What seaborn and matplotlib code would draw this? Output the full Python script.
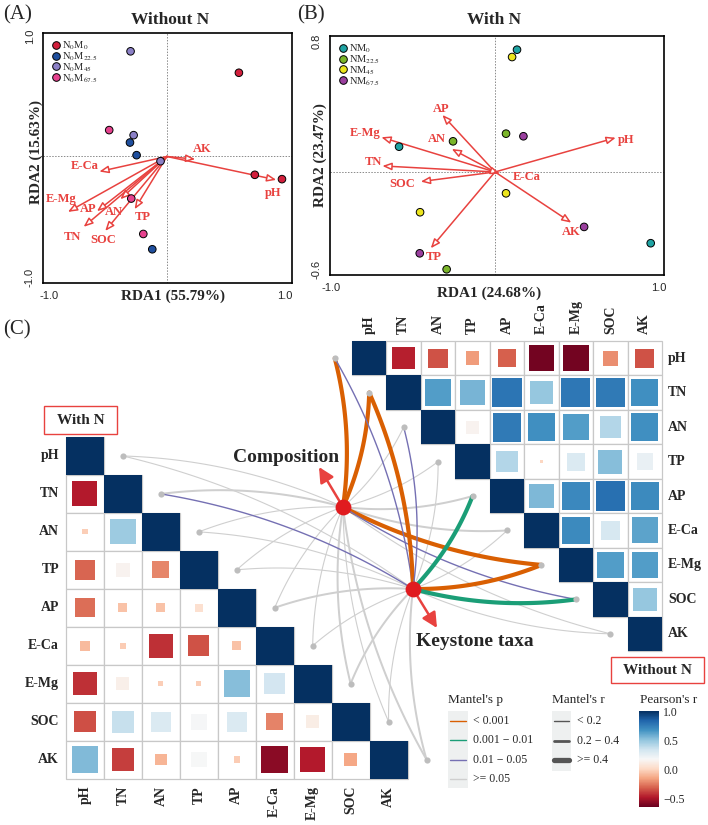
import numpy as np
import pandas as pd
import matplotlib
matplotlib.use("Agg")
import matplotlib.pyplot as plt
import seaborn as sns
from matplotlib.patches import Rectangle
from matplotlib.colors import Normalize
from matplotlib.lines import Line2D
from matplotlib.cm import ScalarMappable

sns.set_style("white")
plt.rcParams["font.family"] = ["Liberation Serif", "DejaVu Serif"]
plt.rcParams["mathtext.fontset"] = "stix"

# ----------------------------------------------------------------------
# (A) RDA without N
groups_a = ["N$_0$M$_0$", "N$_0$M$_{22.5}$", "N$_0$M$_{45}$", "N$_0$M$_{67.5}$"]
colors_a = ["#d21f3c", "#1f4f9e", "#8b80c6", "#e6428e"]
site_grp_a = [0, 0, 0, 1, 1, 1, 2, 2, 2, 3, 3, 3]
rda1_a = [0.61, 0.745, 0.975, -0.313, -0.257, -0.124, -0.308, -0.282, -0.054, -0.489, -0.302, -0.20]
rda2_a = [0.695, -0.152, -0.188, 0.116, 0.011, -0.77, 0.873, 0.177, -0.039, 0.219, -0.349, -0.643]
env_a = ["AK", "pH", "E-Ca", "E-Mg", "AP", "AN", "TN", "SOC", "TP"]
env1_a = [0.24, 0.927, -0.573, -0.839, -0.593, -0.395, -0.706, -0.523, -0.274]
env2_a = [-0.022, -0.194, -0.125, -0.46, -0.454, -0.355, -0.584, -0.618, -0.438]
lab1_a = [0.297, 0.898, -0.70, -0.895, -0.664, -0.452, -0.797, -0.537, -0.203]
lab2_a = [0.066, -0.30, -0.083, -0.355, -0.438, -0.457, -0.665, -0.693, -0.499]

# (B) RDA with N
groups_b = ["NM$_0$", "NM$_{22.5}$", "NM$_{45}$", "NM$_{67.5}$"]
colors_b = ["#1fa3a3", "#7bb52a", "#ece51d", "#9a3f9e"]
site_grp_b = [0, 0, 0, 1, 1, 1, 2, 2, 2, 3, 3, 3]
rda1_b = [0.134, -0.585, 0.949, 0.067, -0.256, -0.295, 0.104, 0.067, -0.457, 0.173, 0.543, -0.459]
rda2_b = [0.75, 0.155, -0.437, 0.235, 0.188, -0.597, 0.705, -0.131, -0.247, 0.219, -0.337, -0.499]
env_b = ["AP", "E-Mg", "AN", "TN", "SOC", "pH", "E-Ca", "AK", "TP"]
env1_b = [-0.321, -0.693, -0.264, -0.687, -0.453, 0.736, 0.03, 0.465, -0.392]
env2_b = [0.35, 0.213, 0.141, 0.037, -0.059, 0.21, -0.01, -0.311, -0.468]
lab1_b = [-0.327, -0.79, -0.352, -0.74, -0.565, 0.80, 0.193, 0.465, -0.372]
lab2_b = [0.384, 0.237, 0.20, 0.061, -0.072, 0.196, -0.029, -0.366, -0.523]

# (C) Pearson's r between soil properties
soil = ["pH", "TN", "AN", "TP", "AP", "E-Ca", "E-Mg", "SOC", "AK"]
# without N: row i holds r with the columns i+1 .. 8
r_without_n = [
    [-0.46, -0.34, -0.17, -0.31, -0.61, -0.61, -0.20, -0.34],
    [0.64, 0.56, 0.78, 0.50, 0.77, 0.76, 0.68],
    [0.15, 0.76, 0.68, 0.64, 0.42, 0.68],
    [0.42, 0.005, 0.30, 0.53, 0.24],
    [0.55, 0.71, 0.80, 0.70],
    [0.70, 0.32, 0.62],
    [0.64, 0.64],
    [0.50],
]
# with N: row i+1 holds r with the columns 0 .. i
r_with_n = [
    [-0.47],
    [-0.02, 0.48],
    [-0.30, 0.15, -0.22],
    [-0.28, -0.06, -0.06, 0.05],
    [-0.08, -0.025, -0.42, -0.34, -0.06],
    [-0.42, 0.13, -0.02, -0.02, 0.53, 0.33],
    [-0.35, 0.37, 0.30, 0.19, 0.30, -0.23, 0.12],
    [0.54, -0.39, -0.10, 0.18, -0.03, -0.56, -0.47, -0.14],
]

# Mantel test classes (one entry per soil property, same order as `soil`)
p_comp_without = ["<0.001", "<0.001", ">=0.05", ">=0.05", ">=0.05", ">=0.05", "<0.001", "0.01-0.05", ">=0.05"]
r_comp_without = [">=0.4", ">=0.4", "<0.2", "<0.2", "0.2-0.4", "0.2-0.4", ">=0.4", "<0.2", "<0.2"]
p_key_without = ["0.01-0.05", "<0.001", "0.01-0.05", ">=0.05", "0.001-0.01", ">=0.05", "<0.001", "0.001-0.01", ">=0.05"]
r_key_without = ["<0.2", ">=0.4", "<0.2", "<0.2", ">=0.4", "<0.2", ">=0.4", ">=0.4", "<0.2"]
p_comp_with = [">=0.05"] * 9
r_comp_with = ["<0.2", "0.2-0.4", "<0.2", "<0.2", "<0.2", "<0.2", "0.2-0.4", "<0.2", "0.2-0.4"]
p_key_with = [">=0.05", "0.01-0.05", ">=0.05", ">=0.05", ">=0.05", ">=0.05", ">=0.05", ">=0.05", ">=0.05"]
r_key_with = ["<0.2", "<0.2", "<0.2", "<0.2", "0.2-0.4", "<0.2", "0.2-0.4", "<0.2", "0.2-0.4"]

p_levels = ["<0.001", "0.001-0.01", "0.01-0.05", ">=0.05"]
p_labels = ["< 0.001", "0.001 \u2212 0.01", "0.01 \u2212 0.05", ">= 0.05"]
p_colors = ["#d95f02", "#1b9e77", "#7570b3", "#cfcfcf"]
r_levels = ["<0.2", "0.2-0.4", ">=0.4"]
r_labels = ["< 0.2", "0.2 \u2212 0.4", ">= 0.4"]
r_widths = [1.0, 1.8, 3.0]

# ----------------------------------------------------------------------
W, H = 708, 825
fig = plt.figure(figsize=(W / 100, H / 100), dpi=100)


def px_axes(x0, y0, x1, y1):
    return fig.add_axes([x0 / W, 1 - y1 / H, (x1 - x0) / W, (y1 - y0) / H])


axc = px_axes(0, 0, W, H)
axc.set_xlim(0, W)
axc.set_ylim(H, 0)
axc.axis("off")

red = "#e8423f"


def rda_panel(ax, x, y, grp, groups, colors, env, e1, e2, l1, l2, xlim, ylim, yticks, ylabs):
    df = pd.DataFrame({"RDA1": x, "RDA2": y, "grp": [groups[g] for g in grp]})
    ax.axhline(0, color="#8a8a8a", lw=0.7, ls=(0, (1.5, 1.5)), zorder=0)
    ax.axvline(0, color="#8a8a8a", lw=0.7, ls=(0, (1.5, 1.5)), zorder=0)
    for name, ex, ey, lx, ly in zip(env, e1, e2, l1, l2):
        ax.annotate("", xy=(ex, ey), xytext=(0, 0),
                    arrowprops=dict(arrowstyle="-|>,head_length=0.55,head_width=0.22",
                                    ec=red, fc="white", lw=1.1, mutation_scale=10,
                                    shrinkA=0, shrinkB=0), zorder=2)
        ax.text(lx, ly, name, color=red, fontsize=9, fontweight="bold",
                ha="center", va="center", zorder=3)
    sns.scatterplot(data=df, x="RDA1", y="RDA2", hue="grp", hue_order=groups,
                    palette=colors, s=30, edgecolor="black", linewidth=0.7,
                    legend=False, ax=ax, zorder=4)
    handles = [Line2D([], [], marker="o", ls="", mfc=c, mec="black", mew=0.7, ms=5.5)
               for c in colors]
    ax.legend(handles, groups, loc="upper left", frameon=False, fontsize=7.5,
              handletextpad=0.0, labelspacing=-0.15, borderaxespad=0.4,
              borderpad=0.2, handlelength=1.2)
    ax.set_xlim(*xlim)
    ax.set_ylim(*ylim)
    ax.set_xticks([-1, -0.5, 0, 0.5, 1])
    ax.set_xticklabels(["-1.0", "", "", "", "1.0"], fontfamily="Liberation Sans", fontsize=8)
    ax.set_yticks(yticks)
    ax.set_yticklabels(ylabs, fontfamily="Liberation Sans", fontsize=8, rotation=90, va="center")
    ax.tick_params(direction="out", length=4, width=1, pad=2)
    ax.set_xlabel("")
    ax.set_ylabel("")
    for s in ax.spines.values():
        s.set_linewidth(1.2)
        s.set_color("black")


ax_a = px_axes(43, 33, 292, 283)
rda_panel(ax_a, rda1_a, rda2_a, site_grp_a, groups_a, colors_a, env_a, env1_a, env2_a,
          lab1_a, lab2_a, (-1.05, 1.06), (-1.05, 1.025),
          [-1, -0.5, 0, 0.5, 1], ["-1.0", "", "", "", "1.0"])

ax_b = px_axes(330, 36, 664, 275)
bt = [-0.6, -0.4, -0.2, 0, 0.2, 0.4, 0.6, 0.8]
rda_panel(ax_b, rda1_b, rda2_b, site_grp_b, groups_b, colors_b, env_b, env1_b, env2_b,
          lab1_b, lab2_b, (-1.006, 1.03), (-0.632, 0.834),
          bt, ["-0.6", "", "", "", "", "", "", "0.8"])

# titles / panel labels
axc.text(3, 15, "(A)", fontsize=15, va="center", ha="left")
axc.text(297, 15, "(B)", fontsize=15, va="center", ha="left")
axc.text(3, 330, "(C)", fontsize=15, va="center", ha="left")
axc.text(170, 20, "Without N", fontsize=12.5, fontweight="bold", ha="center", va="center")
axc.text(494, 20, "With N", fontsize=12.5, fontweight="bold", ha="center", va="center")
axc.text(173, 296, "RDA1 (55.79%)", fontsize=11, fontweight="bold", ha="center", va="center")
axc.text(489, 293, "RDA1 (24.68%)", fontsize=11, fontweight="bold", ha="center", va="center")
axc.text(36, 152, "RDA2 (15.63%)", fontsize=11, fontweight="bold", ha="center", va="center", rotation=90)
axc.text(320, 155, "RDA2 (23.47%)", fontsize=11, fontweight="bold", ha="center", va="center", rotation=90)

# ----------------------------------------------------------------------
# (C) correlation matrices
cmap = sns.color_palette("RdBu", as_cmap=True)
norm = Normalize(vmin=-0.64, vmax=1.0)


def draw_cell(x, y, c, r, diag=False):
    axc.add_patch(Rectangle((x, y), c, c, fc="white", ec="#c8c8c8", lw=0.9, zorder=2))
    s = c if diag else np.sqrt(abs(r)) * c * 0.96
    axc.add_patch(Rectangle((x + (c - s) / 2, y + (c - s) / 2), s, s,
                            fc=cmap(norm(r)), ec="none", zorder=3))


ux0, uy0, uc = 352, 341, 34.45
lx0, ly0, lc = 66, 437, 37.95
n = len(soil)
for i in range(n):
    draw_cell(ux0 + i * uc, uy0 + i * uc, uc, 1.0, diag=True)
    for k, r in enumerate(r_without_n[i] if i < n - 1 else []):
        j = i + 1 + k
        draw_cell(ux0 + j * uc, uy0 + i * uc, uc, r)
    draw_cell(lx0 + i * lc, ly0 + i * lc, lc, 1.0, diag=True)
    if i > 0:
        for j, r in enumerate(r_with_n[i - 1]):
            draw_cell(lx0 + j * lc, ly0 + i * lc, lc, r)
    axc.text(ux0 + (i + 0.5) * uc, 334, soil[i], rotation=90, ha="center", va="bottom",
             fontsize=10, fontweight="bold")
    axc.text(668, uy0 + (i + 0.5) * uc, soil[i], ha="left", va="center",
             fontsize=10, fontweight="bold")
    axc.text(59, ly0 + (i + 0.5) * lc, soil[i], ha="right", va="center",
             fontsize=10, fontweight="bold")
    axc.text(lx0 + (i + 0.5) * lc, 786, soil[i], rotation=90, ha="center", va="top",
             fontsize=10, fontweight="bold")

# network (Mantel links)
comp = np.array([343.0, 507.0])
key = np.array([413.0, 589.0])
up_pts = [np.array([ux0 + (i - 0.5) * uc, uy0 + (i + 0.5) * uc]) for i in range(n)]
low_pts = [np.array([lx0 + (i + 1.5) * lc, ly0 + (i + 0.5) * lc]) for i in range(n)]


def link(p0, p1, pcls, rcls, curv=0.1):
    d = p1 - p0
    ctrl = (p0 + p1) / 2 + curv * np.array([-d[1], d[0]])
    t = np.linspace(0, 1, 60)[:, None]
    pts = (1 - t) ** 2 * p0 + 2 * (1 - t) * t * ctrl + t ** 2 * p1
    col = p_colors[p_levels.index(pcls)]
    lw = r_widths[r_levels.index(rcls)]
    z = 4 if pcls == ">=0.05" else 5
    if pcls == ">=0.05":
        lw = lw * 0.8
    axc.plot(pts[:, 0], pts[:, 1], color=col, lw=lw, zorder=z, solid_capstyle="round")


links = [
    (comp, up_pts, p_comp_without, r_comp_without),
    (key, up_pts, p_key_without, r_key_without),
    (comp, low_pts, p_comp_with, r_comp_with),
    (key, low_pts, p_key_with, r_key_with),
]
for node, pts, pc, rc in links:
    for p, pcls, rcls in zip(pts, pc, rc):
        link(node, p, pcls, rcls)

allpts = np.array(up_pts + low_pts)
axc.scatter(allpts[:, 0], allpts[:, 1], s=20, color="#bdbdbd", zorder=6, linewidths=0)
axc.scatter([comp[0], key[0]], [comp[1], key[1]], s=130, color="#e01b1f", zorder=7, linewidths=0)
axc.annotate("", xy=(319, 467), xytext=tuple(comp),
             arrowprops=dict(arrowstyle="-|>,head_length=0.9,head_width=0.45", color=red,
                             lw=1.8, mutation_scale=10, shrinkA=0, shrinkB=0), zorder=6)
axc.annotate("", xy=(437, 628), xytext=tuple(key),
             arrowprops=dict(arrowstyle="-|>,head_length=0.9,head_width=0.45", color=red,
                             lw=1.8, mutation_scale=10, shrinkA=0, shrinkB=0), zorder=6)
axc.text(286, 457, "Composition", fontsize=14, fontweight="bold", ha="center", va="center", zorder=8)
axc.text(475, 642, "Keystone taxa", fontsize=14, fontweight="bold", ha="center", va="center", zorder=8)

# boxes
axc.add_patch(Rectangle((44, 406), 73, 28, fc="white", ec=red, lw=1.0, zorder=8))
axc.text(80.5, 420, "With N", fontsize=11, fontweight="bold", ha="center", va="center", zorder=9)
axc.add_patch(Rectangle((611, 657), 93, 26, fc="white", ec=red, lw=1.0, zorder=8))
axc.text(657.5, 670, "Without N", fontsize=11, fontweight="bold", ha="center", va="center", zorder=9)

# legends
axc.text(448, 700, "Mantel's p", fontsize=9.5, ha="left", va="center")
axc.add_patch(Rectangle((448, 711), 20, 77, fc="#eef0f0", ec="none", zorder=1))
for k, (lab, col) in enumerate(zip(p_labels, p_colors)):
    yy = 721 + k * 19.3
    axc.plot([450, 466], [yy, yy], color=col, lw=1.0, zorder=2)
    axc.text(473, yy, lab, fontsize=8.5, ha="left", va="center")
axc.text(552, 700, "Mantel's r", fontsize=9.5, ha="left", va="center")
axc.add_patch(Rectangle((552, 711), 19, 60, fc="#eef0f0", ec="none", zorder=1))
for k, (lab, lw) in enumerate(zip(r_labels, r_widths)):
    yy = 721 + k * 19.5
    axc.plot([554, 569], [yy, yy], color="#555555", lw=[1.0, 2.0, 3.8][k], zorder=2)
    axc.text(577, yy, lab, fontsize=8.5, ha="left", va="center")
axc.text(640, 700, "Pearson's r", fontsize=9.5, ha="left", va="center")

cax = px_axes(639, 711, 659, 807)
cb = fig.colorbar(ScalarMappable(norm=norm, cmap=cmap), cax=cax, ticks=[-0.5, 0, 0.5, 1.0])
cb.outline.set_visible(False)
cb.ax.set_yticklabels(["\u22120.5", "0.0", "0.5", "1.0"], fontsize=8.5)
cb.ax.tick_params(color="white", length=3, width=0.8, direction="in", pad=3)

fig.savefig("out.png", dpi=100)
